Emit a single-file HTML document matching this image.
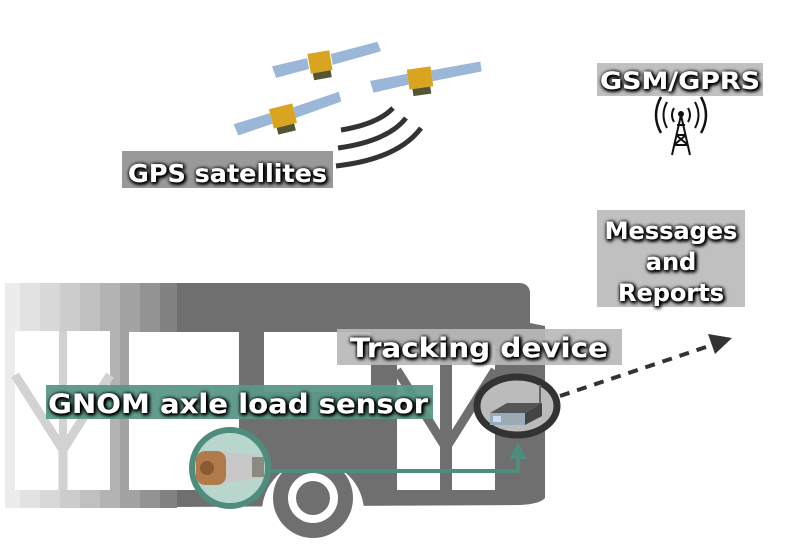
<!DOCTYPE html>
<html><head><style>
html,body{margin:0;padding:0;background:#fff;}
svg{display:block;}
.t{font-family:"DejaVu Sans","Liberation Sans",sans-serif;font-weight:bold;fill:#fff;}
</style></head><body>
<svg width="800" height="557" viewBox="0 0 800 557" xmlns="http://www.w3.org/2000/svg">
<defs>
<filter id="sh" x="-10%" y="-30%" width="120%" height="160%">
<feGaussianBlur in="SourceAlpha" stdDeviation="2"/>
<feOffset dx="1" dy="1"/>
<feComponentTransfer><feFuncA type="linear" slope="1.6"/></feComponentTransfer>
<feMerge><feMergeNode/><feMergeNode/><feMergeNode in="SourceGraphic"/></feMerge>
</filter>
</defs>

<!-- bus body -->
<path d="M5,283 L520,283 Q531,284 530,296 L530,323 L545,326 L545,498 Q540,504 520,505 L5,508 Z" fill="#6f6f6f"/>
<g>
<rect x="5" y="283" width="15" height="225" fill="#ececec"/>
<rect x="20" y="283" width="20" height="225" fill="#e2e2e2"/>
<rect x="40" y="283" width="20" height="225" fill="#d8d8d8"/>
<rect x="60" y="283" width="20" height="225" fill="#cccccc"/>
<rect x="80" y="283" width="20" height="225" fill="#c0c0c0"/>
<rect x="100" y="283" width="20" height="225" fill="#b3b3b3"/>
<rect x="120" y="283" width="20" height="225" fill="#a3a3a3"/>
<rect x="140" y="283" width="20" height="225" fill="#939393"/>
<rect x="160" y="283" width="17" height="225" fill="#828282"/>
</g>
<!-- windows -->
<rect x="15" y="331" width="95" height="159" fill="#fff"/>
<rect x="129" y="332" width="110" height="158" fill="#fff"/>
<rect x="264" y="332" width="107" height="60" fill="#fff"/>
<rect x="397" y="345" width="43" height="145" fill="#fff"/>
<rect x="452" y="345" width="43" height="145" fill="#fff"/>
<!-- Y shapes -->
<path d="M15,375 L63,450 L63,490 M110,375 L63,450" stroke="#d2d2d2" stroke-width="9" fill="none"/>
<path d="M63,331 L63,455" stroke="#d2d2d2" stroke-width="8"/>
<path d="M397,370 L446,448 M495,370 L446,448" stroke="#6f6f6f" stroke-width="9" fill="none"/>

<!-- wheel arch & wheel -->
<path d="M262,512 A51,51 0 0 1 364,512 Z" fill="#fff"/>
<circle cx="313" cy="498" r="40" fill="#6f6f6f"/>
<circle cx="313" cy="498" r="25" fill="#fff"/>
<circle cx="313" cy="498" r="17" fill="#6f6f6f"/>

<!-- sensor line -->
<path d="M265,471 L518,471 L518,457" stroke="#4e8d7e" stroke-width="4" fill="none"/>
<polygon points="509,459 527,459 518,442" fill="#4e8d7e"/>
<circle cx="230" cy="468" r="38" fill="#b9d6cd" stroke="#4e8d7e" stroke-width="6"/>
<path d="M222,452 L258,455 L262,478 L222,483 Z" fill="#c8c8c8"/>
<rect x="252" y="457" width="12" height="20" fill="#8a8a80"/>
<rect x="196" y="451" width="30" height="34" rx="9" fill="#b07a4a"/>
<circle cx="207" cy="468" r="7" fill="#8a5a32"/>

<!-- device -->
<ellipse cx="517" cy="406" rx="40" ry="29" fill="#bbb" stroke="#333" stroke-width="7"/>
<line x1="540" y1="385" x2="540" y2="405" stroke="#666" stroke-width="2"/>
<polygon points="490,413 525,413 542,403 507,403" fill="#555"/>
<rect x="490" y="413" width="35" height="12" fill="#9ab"/>
<polygon points="525,413 542,403 542,416 525,425" fill="#444"/>
<rect x="493" y="416" width="8" height="6" fill="#cde"/>
<circle cx="508" cy="419" r="2" fill="#aa8"/><circle cx="517" cy="419" r="2" fill="#aa8"/>

<!-- dashed arrow -->
<line x1="560" y1="396" x2="715" y2="344" stroke="#333" stroke-width="4" stroke-dasharray="10,8"/>
<polygon points="732,338 708,334 715,354" fill="#333"/>

<!-- satellites -->
<g>
<g transform="translate(320,62) rotate(-10)"><polygon points="-48,-4 -12,-6 -12,5 -46,8" fill="#9bb7d8"/><polygon points="12,-6 60,-10 62,0 12,5" fill="#9bb7d8"/><rect x="-11" y="-10" width="22" height="20" fill="#d9a520"/><rect x="-9" y="10" width="18" height="7" fill="#553"/></g>
<g transform="translate(420,78) rotate(-8)"><polygon points="-50,-4 -12,-6 -12,5 -48,8" fill="#9bb7d8"/><polygon points="12,-6 62,-8 62,2 12,5" fill="#9bb7d8"/><rect x="-12" y="-10" width="24" height="20" fill="#d9a520"/><rect x="-9" y="10" width="18" height="7" fill="#553"/></g>
<g transform="translate(283,116) rotate(-14)"><polygon points="-50,-4 -12,-6 -12,5 -48,8" fill="#9bb7d8"/><polygon points="12,-6 60,-10 60,0 12,5" fill="#9bb7d8"/><rect x="-12" y="-10" width="24" height="20" fill="#d9a520"/><rect x="-9" y="10" width="18" height="7" fill="#553"/></g>
</g>
<!-- signal arcs -->
<path d="M341,130 Q378,124 393,108" stroke="#333" stroke-width="5" fill="none"/>
<path d="M338,148 Q388,141 406,118" stroke="#333" stroke-width="5" fill="none"/>
<path d="M336,166 Q398,159 421,128" stroke="#333" stroke-width="5" fill="none"/>

<!-- tower -->
<g stroke="#111" stroke-width="2" fill="none">
<path d="M681,115 L672,155 M681,115 L690,155 M676,135 L686,135 M674,145 L688,145 M677,125 L685,125 M676,135 L688,145 M686,135 L674,145"/>
<path d="M674,108 Q670,115 674,122 M688,108 Q692,115 688,122"/>
<path d="M667,102 Q660,115 667,128 M695,102 Q702,115 695,128"/>
<path d="M661,97 Q651,115 661,133 M701,97 Q711,115 701,133" stroke-width="2.5"/>
</g>
<circle cx="681" cy="114" r="3" fill="#111"/>

<!-- labels -->
<rect x="122" y="151" width="211" height="37" fill="#999"/>
<text class="t" x="128" y="182" font-size="25" textLength="199" lengthAdjust="spacingAndGlyphs" filter="url(#sh)">GPS satellites</text>

<rect x="597" y="63" width="166" height="33" fill="#c0c0c0"/>
<text class="t" x="600" y="89" font-size="24" textLength="160" lengthAdjust="spacingAndGlyphs" filter="url(#sh)">GSM/GPRS</text>

<rect x="597" y="210" width="148" height="97" fill="#c0c0c0"/>
<text class="t" font-size="24" text-anchor="middle" filter="url(#sh)"><tspan x="671" y="239">Messages</tspan><tspan x="671" y="270">and</tspan><tspan x="671" y="301">Reports</tspan></text>

<rect x="337" y="329" width="285" height="36" fill="#b8b8b8" opacity="0.92"/>
<text class="t" x="350" y="357" font-size="27" textLength="258" lengthAdjust="spacingAndGlyphs" filter="url(#sh)">Tracking device</text>

<rect x="46" y="385" width="387" height="34" fill="#5a9786" opacity="0.95"/>
<text class="t" x="48" y="413" font-size="27" textLength="380" lengthAdjust="spacingAndGlyphs" filter="url(#sh)">GNOM axle load sensor</text>
</svg>
</body></html>
